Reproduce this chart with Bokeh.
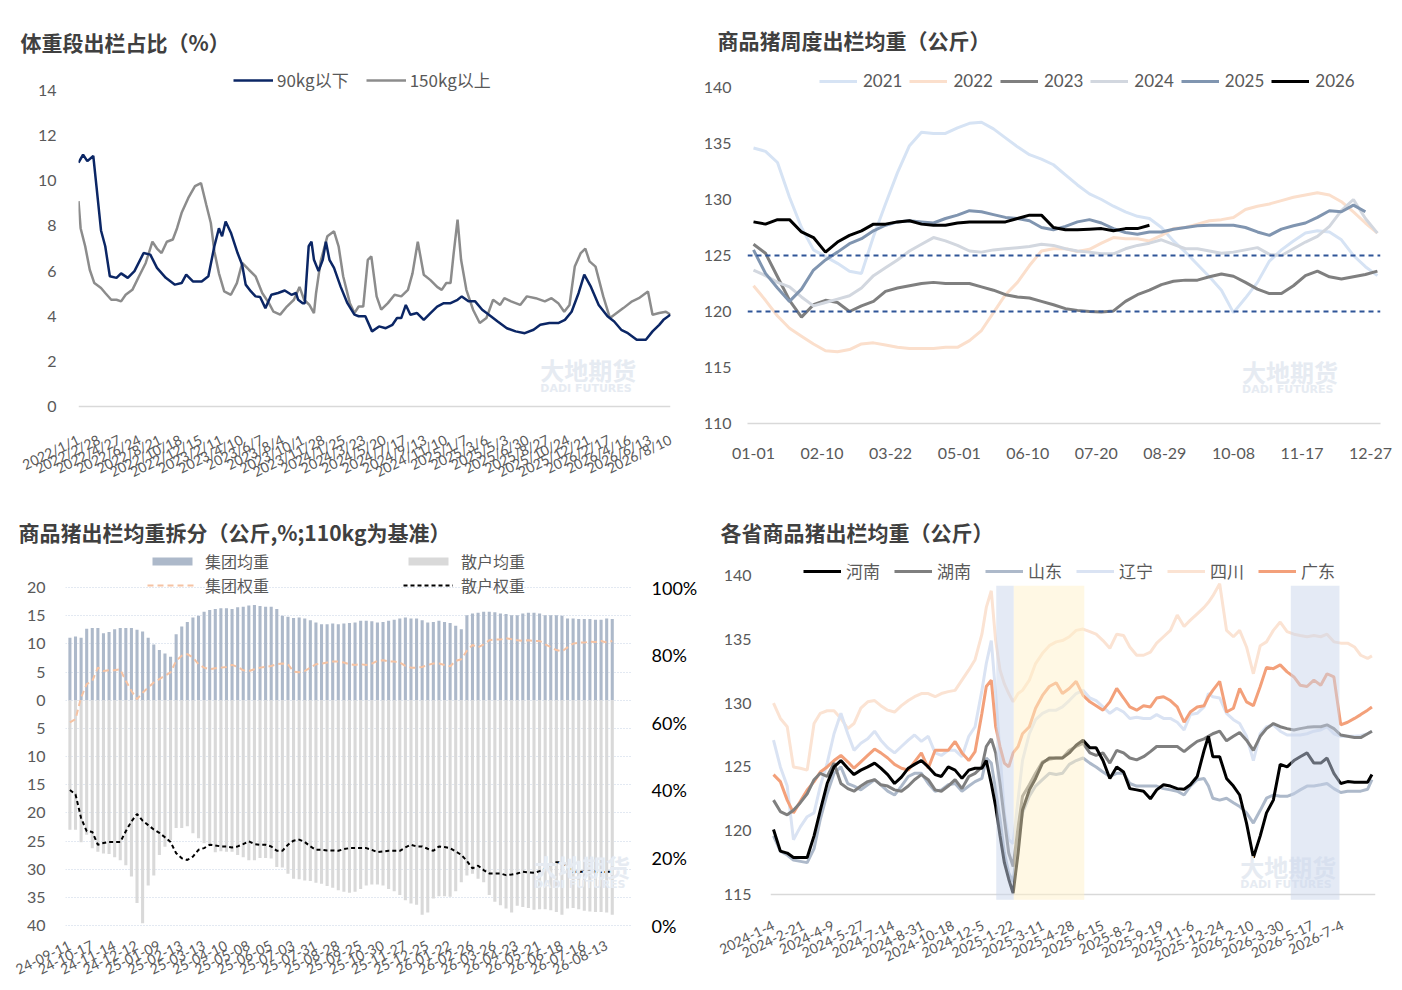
from bokeh.plotting import figure
from bokeh.models import Range1d, LinearAxis, FixedTicker, Legend, LegendItem, Span, Label, BoxAnnotation
from bokeh.layouts import column, row
from bokeh.embed import file_html
from bokeh.resources import INLINE

# ---------------- data: 体重段出栏占比 ----------------
tl_labels = ["2022/1/1", "2022/2/28", "2022/4/27", "2022/6/24", "2022/8/21", "2022/10/18", "2022/12/15",
             "2023/2/11", "2023/4/10", "2023/6/7", "2023/8/4", "2023/10/1", "2023/11/28", "2024/1/25",
             "2024/3/23", "2024/5/20", "2024/7/17", "2024/9/13", "2024/11/10", "2025/1/7", "2025/3/6",
             "2025/5/3", "2025/6/30", "2025/8/27", "2025/10/24", "2025/12/21", "2026/2/17", "2026/4/16",
             "2026/6/13", "2026/8/10"]
tl_label_step_days = 58
# days since 2022-01-01
below90_day = [0, 13, 25, 42, 51, 64, 76, 89, 108, 121, 140, 159, 185, 204, 223, 248, 274, 293, 306, 325,
               350, 369, 386, 399, 408, 418, 433, 452, 465, 475, 490, 503, 516, 531, 548, 567, 586, 605, 618, 624,
               637, 643, 654, 662, 669, 682, 694, 703, 713, 726, 745, 764, 784, 796, 815, 834, 854, 873, 892, 905,
               917, 930, 943, 962, 981, 1000, 1019, 1038, 1057, 1077, 1089, 1108, 1127, 1147, 1166, 1191, 1217,
               1242, 1268, 1293, 1312, 1338, 1363, 1382, 1401, 1421, 1437, 1456, 1478, 1503, 1522, 1542, 1561,
               1586, 1612, 1631, 1650, 1662, 1682]
below90_val = [10.8, 11.16, 10.87, 11.1, 9.76, 7.8, 7.1, 5.77, 5.7, 5.9, 5.7, 6.0, 6.8, 6.73, 6.14, 5.7, 5.4,
               5.47, 5.84, 5.54, 5.54, 5.77, 7.1, 7.9, 7.54, 8.2, 7.7, 6.8, 6.28, 5.4, 5.1, 4.88, 4.85, 4.36,
               4.95, 5.03, 5.14, 4.95, 5.03, 4.73, 4.58, 4.58, 7.1, 7.3, 6.5, 6.0, 6.5, 7.3, 6.5, 6.14, 5.3,
               4.58, 4.07, 4.0, 4.0, 3.33, 3.55, 3.47, 3.62, 3.92, 3.92, 4.5, 4.07, 4.14, 3.84, 4.14, 4.43,
               4.58, 4.58, 4.73, 4.88, 4.66, 4.66, 4.29, 4.07, 3.77, 3.47, 3.33, 3.25, 3.4, 3.62, 3.7, 3.7,
               3.84, 4.2, 5.03, 5.84, 5.3, 4.5, 4.0, 3.77, 3.4, 3.25, 2.96, 2.96, 3.33, 3.62, 3.84, 4.07]
above150_day = [0, 6, 19, 32, 45, 64, 76, 93, 108, 121, 134, 153, 172, 191, 210, 223, 236, 251, 268, 280,
                293, 312, 331, 348, 363, 376, 386, 399, 414, 433, 450, 465, 484, 503, 522, 541, 554, 573, 592,
                612, 628, 641, 656, 669, 675, 688, 707, 726, 739, 752, 771, 784, 796, 809, 822, 832, 847, 860,
                879, 898, 917, 936, 949, 964, 981, 1000, 1019, 1032, 1045, 1057, 1066, 1077, 1087, 1102, 1121,
                1140, 1159, 1178, 1198, 1210, 1229, 1255, 1274, 1299, 1325, 1344, 1363, 1380, 1395, 1410, 1427,
                1440, 1452, 1469, 1491, 1510, 1529, 1548, 1573, 1592, 1618, 1631, 1650, 1669, 1682]
above150_val = [9.1, 7.9, 7.1, 6.06, 5.47, 5.25, 5.03, 4.73, 4.73, 4.66, 4.95, 5.17, 5.77, 6.36, 7.3, 7.0, 6.8,
                7.3, 7.4, 7.9, 8.58, 9.24, 9.76, 9.9, 8.94, 8.13, 6.87, 5.9, 5.1, 4.95, 5.47, 6.36, 6.06, 5.77,
                5.03, 4.58, 4.2, 4.07, 4.43, 4.73, 5.3, 4.73, 4.5, 4.14, 5.03, 6.43, 7.54, 7.76, 7.1, 5.77, 4.58,
                4.14, 4.43, 4.43, 6.5, 6.65, 4.88, 4.29, 4.58, 4.95, 4.88, 5.17, 5.9, 7.3, 5.84, 5.6, 5.3, 5.17,
                5.47, 5.47, 6.8, 8.28, 6.5, 5.17, 4.29, 3.7, 3.92, 4.73, 4.5, 4.8, 4.66, 4.5, 4.88, 4.8, 4.66,
                4.8, 4.58, 4.2, 4.5, 6.2, 6.8, 7.0, 6.43, 6.2, 4.88, 3.92, 4.14, 4.36, 4.66, 4.8, 5.1, 4.07,
                4.14, 4.2, 4.07]

# ---------------- data: 商品猪周度出栏均重 ----------------
tr_labels = ["01-01", "02-10", "03-22", "05-01", "06-10", "07-20", "08-29", "10-08", "11-17", "12-27"]
tr_label_step_days = 40
tr_years = ["2021", "2022", "2023", "2024", "2025", "2026"]
w2021 = [134.6, 134.3, 133.3, 130.2, 127.5, 125.5, 124.9, 124.3, 123.6, 123.4, 126.7, 129.6, 132.4, 134.8,
         136.0, 135.9, 135.9, 136.4, 136.8, 136.9, 136.3, 135.5, 134.7, 134.0, 133.6, 133.1, 132.2, 131.3,
         130.5, 130.0, 129.4, 128.9, 128.5, 128.3, 127.5, 126.3, 125.3, 124.2, 123.1, 121.9, 119.9, 121.2,
         122.6, 124.5, 125.5, 126.3, 127.0, 127.2, 127.1, 126.4, 125.0, 124.0, 123.2]
w2022 = [122.3, 121.0, 119.6, 118.5, 117.8, 117.1, 116.5, 116.4, 116.6, 117.1, 117.2, 117.0, 116.8, 116.7,
         116.7, 116.7, 116.8, 116.8, 117.4, 118.3, 119.9, 121.5, 122.6, 124.1, 125.4, 125.6, 125.6, 125.35,
         125.55, 126.1, 126.6, 126.5, 126.5, 126.3, 126.8, 127.4, 127.5, 127.8, 128.1, 128.2, 128.4, 129.1,
         129.4, 129.6, 129.9, 130.2, 130.4, 130.6, 130.4, 129.8, 128.9, 127.9, 127.0]
w2023 = [126.0, 125.2, 123.1, 121.0, 119.5, 120.6, 121.0, 120.8, 120.0, 120.5, 120.9, 121.8, 122.1, 122.3,
         122.5, 122.6, 122.5, 122.5, 122.5, 122.2, 121.9, 121.5, 121.3, 121.2, 120.9, 120.6, 120.25, 120.1,
         120.0, 119.95, 120.05, 120.9, 121.5, 121.9, 122.4, 122.7, 122.8, 122.8, 123.1, 123.35, 123.15, 122.6,
         122.0, 121.6, 121.6, 122.3, 123.2, 123.6, 123.1, 122.9, 123.1, 123.3, 123.6]
w2024 = [123.7, 123.2, 122.6, 122.2, 121.3, 120.5, 120.8, 121.1, 121.4, 122.1, 123.2, 123.9, 124.6, 125.4,
         126.0, 126.6, 126.3, 125.9, 125.4, 125.3, 125.5, 125.6, 125.7, 125.8, 126.0, 125.9, 125.6, 125.4,
         125.3, 125.15, 125.15, 125.6, 125.9, 126.1, 126.4, 126.0, 125.6, 125.6, 125.4, 125.2, 125.3, 125.5,
         125.7, 125.1, 125.0, 125.6, 126.2, 126.7, 127.6, 129.0, 130.0, 128.3, 127.0]
w2025 = [125.5, 123.4, 122.1, 120.9, 122.0, 123.7, 124.6, 125.3, 126.05, 126.5, 127.2, 127.7, 128.0, 128.1,
         128.0, 127.9, 128.3, 128.6, 129.0, 128.9, 128.65, 128.4, 128.3, 128.1, 127.5, 127.3, 127.6, 128.0,
         128.2, 127.9, 127.4, 127.05, 126.9, 127.1, 127.1, 127.35, 127.5, 127.65, 127.7, 127.7, 127.7, 127.5,
         127.1, 126.8, 127.35, 127.65, 127.9, 128.4, 129.0, 128.9, 129.5, 128.9]
w2026 = [128.0, 127.8, 128.2, 128.2, 127.1, 126.6, 125.3, 126.2, 126.8, 127.2, 127.8, 127.8, 128.0, 128.1,
         127.8, 127.7, 127.7, 127.9, 128.0, 128.0, 128.0, 128.0, 128.3, 128.6, 128.6, 127.5, 127.3, 127.3,
         127.35, 127.4, 127.2, 127.4, 127.4, 127.7]
tr_ref_levels = [125, 120]

# ---------------- data: 商品猪出栏均重拆分 ----------------
bl_labels = ["24-09-11", "24-10-17", "24-11-14", "24-12-12", "25-01-09", "25-02-13", "25-03-13", "25-04-10",
             "25-05-08", "25-06-05", "25-07-03", "25-07-31", "25-08-28", "25-09-25", "25-10-30", "25-11-27",
             "25-12-25", "26-01-22", "26-02-26", "26-03-26", "26-04-23", "26-05-21", "26-06-18", "26-07-16",
             "26-08-13"]
bl_label_step = 4
group_weight = [11.1, 11.3, 11.1, 12.7, 12.8, 12.8, 11.9, 12.1, 12.6, 12.8, 12.8, 12.8, 12.5, 12.2, 11.1, 9.9,
                8.9, 8.3, 7.7, 11.7, 13.1, 13.9, 14.7, 15.0, 15.7, 16.0, 16.2, 16.3, 16.3, 16.2, 16.5, 16.6,
                16.8, 16.9, 16.7, 16.6, 16.6, 16.2, 15.0, 14.8, 14.6, 14.7, 14.5, 14.2, 13.8, 13.5, 13.5, 13.6,
                13.5, 13.6, 13.7, 13.8, 14.1, 14.1, 14.0, 13.8, 13.9, 14.1, 14.3, 14.5, 14.7, 14.5, 14.5, 14.2,
                13.8, 13.9, 14.1, 13.9, 13.7, 13.2, 12.6, 15.1, 15.4, 15.5, 15.7, 15.7, 15.6, 15.4, 15.3, 15.1,
                15.1, 15.4, 15.5, 15.5, 15.4, 15.1, 15.1, 15.1, 15.0, 14.5, 14.5, 14.4, 14.4, 14.4, 14.3, 14.3,
                14.5, 14.4]
retail_weight = [23.0, 23.0, 25.2, 23.9, 26.3, 26.9, 27.2, 27.3, 27.9, 28.4, 29.3, 31.3, 36.0, 39.6, 32.9,
                 31.1, 27.5, 26.0, 24.8, 22.7, 22.7, 22.4, 23.6, 24.5, 25.4, 25.8, 27.0, 26.8, 26.9, 26.9, 27.5,
                 27.9, 28.4, 28.4, 28.0, 28.0, 28.1, 29.6, 29.7, 30.8, 31.7, 31.8, 32.0, 32.1, 32.4, 32.6, 33.0,
                 33.3, 33.75, 34.0, 34.2, 34.0, 33.5, 32.9, 32.7, 32.7, 32.9, 33.5, 33.9, 34.6, 35.5, 36.1, 36.3,
                 38.1, 37.7, 35.2, 34.8, 34.8, 34.9, 33.9, 32.3, 31.1, 30.8, 31.7, 32.3, 34.6, 35.8, 36.4, 37.0,
                 37.7, 36.5, 36.7, 36.9, 37.2, 37.1, 37.1, 37.3, 37.6, 38.1, 37.0, 36.9, 37.1, 37.4, 37.5, 37.6,
                 37.6, 37.7, 38.1]
group_share = [60.1, 61.1, 67.5, 71.4, 72.4, 76.3, 75.3, 75.5, 75.5, 75.8, 72.4, 69.4, 67.0, 68.9, 70.4, 71.9,
               72.9, 73.9, 74.9, 78.3, 79.8, 80.3, 79.3, 77.3, 76.3, 75.8, 76.1, 76.3, 76.5, 77.1, 76.5, 75.5,
               75.3, 75.8, 76.3, 76.5, 76.8, 77.3, 77.5, 77.3, 75.1, 74.9, 75.3, 76.3, 77.3, 77.5, 77.8, 78.1,
               78.1, 77.8, 77.3, 77.1, 77.3, 77.1, 77.5, 78.3, 78.5, 78.1, 78.1, 77.8, 76.8, 76.3, 76.3, 76.5,
               77.1, 77.5, 77.5, 77.1, 76.7, 78.3, 78.8, 81.3, 83.0, 82.3, 83.2, 84.4, 84.6, 84.6, 85.0, 84.7,
               84.4, 84.2, 84.4, 84.2, 84.2, 83.2, 82.4, 81.5, 81.1, 82.3, 83.4, 83.7, 83.7, 84.0, 83.9, 84.2,
               83.7, 84.2]
retail_share = [40.1, 38.8, 31.8, 27.9, 27.7, 23.9, 24.4, 24.7, 24.7, 24.7, 27.9, 30.8, 33.0, 31.0, 29.7, 28.4,
                27.4, 26.1, 24.7, 21.4, 19.9, 19.4, 20.4, 22.4, 22.9, 23.9, 23.7, 23.4, 23.4, 23.1, 23.4, 24.1,
                24.9, 24.1, 23.9, 23.9, 23.4, 22.1, 22.1, 23.9, 25.1, 25.4, 24.7, 23.4, 22.4, 22.4, 22.2, 22.2,
                22.1, 22.6, 22.9, 22.9, 22.9, 22.9, 22.4, 21.7, 21.9, 22.1, 22.1, 22.1, 23.1, 23.9, 23.4, 23.4,
                22.7, 22.1, 23.4, 23.2, 22.9, 21.9, 20.9, 19.1, 16.9, 17.7, 16.4, 15.4, 15.4, 15.4, 14.9, 15.1,
                15.4, 15.9, 15.7, 15.6, 16.1, 16.9, 18.1, 18.7, 18.7, 17.4, 15.9, 15.9, 15.9, 15.9, 15.9, 15.8,
                15.9, 15.9]

# ---------------- data: 各省商品猪出栏均重 ----------------
br_labels = ["2024-1-4", "2024-2-21", "2024-4-9", "2024-5-27", "2024-7-14", "2024-8-31", "2024-10-18",
             "2024-12-5", "2025-1-22", "2025-3-11", "2025-4-28", "2025-6-15", "2025-8-2", "2025-9-19",
             "2025-11-6", "2025-12-24", "2026-2-10", "2026-3-30", "2026-5-17", "2026-7-4"]
br_label_step_days = 48
# days since 2024-01-04
br_day = [0, 11, 22, 32, 43, 54, 65, 75, 86, 97, 108, 119, 129, 140, 151, 162, 172, 183, 194, 205, 216, 226,
          237, 248, 259, 269, 280, 291, 302, 313, 323, 334, 341, 349, 356, 363, 370, 377, 384, 392, 399, 410,
          420, 431, 442, 453, 463, 474, 485, 496, 507, 517, 528, 539, 550, 561, 571, 582, 593, 604, 614, 625,
          636, 647, 658, 668, 679, 690, 697, 704, 715, 726, 737, 747, 758, 769, 780, 790, 801, 812, 823, 834,
          844, 855, 866, 877, 887, 898, 909, 920, 931, 941, 952, 959]
henan = [120.1, 118.4, 118.25, 117.9, 117.9, 117.9, 119.6, 121.6, 123.7, 125.0, 125.5, 124.9, 124.4, 124.75,
         125.0, 125.3, 124.9, 124.4, 123.7, 124.2, 124.9, 125.2, 125.5, 125.0, 124.4, 124.25, 125.0, 124.75,
         124.1, 124.75, 124.9, 124.9,
         125.5, 123.7, 121.9, 119.6, 117.5, 116.2, 115.1, 118.25, 121.6,
         123.2, 124.1, 125.3, 125.7, 125.7, 125.7, 126.1, 126.7, 127.1, 126.5, 126.5, 125.5, 124.1, 125.0,
         124.6, 123.3, 123.2, 123.1, 122.5, 123.2, 123.6, 123.5, 123.3, 123.25, 123.6, 124.25, 126.3,
         127.4, 125.8,
         125.8, 124.1, 123.5, 122.8, 120.6, 117.9, 119.6, 121.4, 122.4, 125.2, 125.0, 125.5, 125.8, 126.1,
         125.3, 125.3, 125.7, 124.5, 123.7, 123.85, 123.8, 123.8, 123.8,
         124.4]
hunan = [122.4, 121.5, 121.25, 121.6, 122.2, 122.9, 124.0, 124.5, 124.25, 125.3, 123.7, 123.3, 123.1, 123.5,
         123.85, 124.0, 123.6, 123.5, 123.2, 123.1, 123.5, 124.0, 124.4, 124.0, 123.2, 123.1, 123.5, 124.0,
         123.3, 124.25, 124.5, 125.0,
         126.6, 127.2, 126.1, 123.7, 120.9, 118.25, 117.2, 120.3, 122.7,
         123.6, 124.5, 125.4, 125.6, 125.7, 125.7, 126.3, 126.6, 126.85, 126.1, 125.9, 126.1, 125.3, 126.3,
         126.1, 125.7, 125.55, 125.8, 126.2, 126.6, 126.6, 126.6, 126.6, 126.2, 126.6, 127.0, 127.2,
         127.4, 127.6,
         127.8, 127.05, 127.4, 127.7, 127.1, 126.3, 127.4, 128.0, 128.4, 128.15, 128.0, 127.9, 128.0, 128.1,
         128.15, 128.15, 128.3, 128.0, 127.5, 127.4, 127.3, 127.3, 127.6,
         127.8]
shandong = [119.6, 118.4, 118.1, 117.7, 117.6, 117.5, 118.6, 120.9, 122.9, 124.5, 125.0, 123.7, 123.5, 123.2,
            123.6, 124.0, 123.6, 123.1, 122.8, 123.5, 124.25, 124.5, 124.5, 123.7, 123.1, 123.2, 123.6, 123.7,
            123.1, 123.5, 123.85, 124.1,
            125.7, 125.3, 123.2, 120.9, 118.25, 116.7, 116.0, 119.3, 121.4,
            122.7, 123.5, 124.0, 124.5, 124.4, 124.5, 125.2, 125.5, 125.7, 125.3, 125.0, 124.6, 124.25, 124.5,
            124.5, 123.7, 123.5, 123.5, 123.5, 123.5, 123.3, 123.2, 123.1, 122.8, 123.5, 124.0, 124.1,
            123.5, 122.55,
            122.4, 122.55, 122.2, 121.9, 121.4, 120.6, 121.6, 122.55, 122.8, 122.7, 122.7, 122.9, 123.2, 123.5,
            123.5, 123.6, 123.7, 123.3, 123.0, 123.1, 123.1, 123.1, 123.25,
            124.0]
liaoning = [127.1, 125.0, 123.5, 119.3, 120.3, 121.1, 121.4, 123.5, 125.3, 127.6, 129.2, 127.6, 126.3, 126.85,
            127.2, 127.8, 127.1, 126.5, 126.1, 126.6, 127.1, 127.5, 127.0, 127.4, 126.1, 125.9, 126.3, 126.3,
            125.8, 127.4, 128.15, 131.0,
            133.1, 134.9, 130.75, 126.1, 121.4, 119.3, 119.0, 122.5, 125.5,
            127.6, 128.7, 129.2, 129.45, 129.45, 129.7, 130.2, 130.75, 131.0, 130.4, 130.2, 129.7, 129.2, 129.6,
            129.3, 128.8, 128.9, 128.8, 128.8, 129.1, 128.8, 128.8, 128.5, 127.9, 129.1, 129.2, 129.7,
            130.75, 130.5,
            130.4, 129.2, 128.7, 128.4, 127.4, 125.5, 127.6, 128.15, 128.3, 127.8, 127.5, 127.5, 127.5, 127.6,
            127.8, 127.9, 128.15, 127.6, 127.4, 127.4, 127.4, 127.45, 127.6,
            127.8]
sichuan = [130.0, 128.8, 128.15, 125.0, 124.9, 124.75, 128.4, 129.2, 129.4, 129.4, 128.8, 128.0, 128.4, 129.6,
           130.1, 130.2, 129.8, 129.45, 129.3, 129.8, 130.2, 130.5, 130.75, 130.75, 130.5, 130.75, 130.9, 131.0,
           131.8, 132.6, 133.4, 135.4,
           137.5, 138.8, 134.9, 132.6, 131.5, 130.75, 130.1, 130.75, 131.0,
           131.8, 133.1, 133.9, 134.5, 134.8, 134.9, 135.2, 135.7, 135.8, 135.6, 135.4, 134.9, 134.3, 135.4,
           135.3, 134.4, 133.75, 133.75, 134.0, 134.7, 135.2, 135.7, 136.9, 136.0, 136.5, 137.0, 137.5,
           137.9, 138.4,
           139.35, 135.7, 135.2, 135.7, 134.4, 132.3, 134.5, 134.8, 135.7, 136.35, 135.6, 135.4, 135.3, 135.2,
           135.3, 135.2, 135.4, 134.8, 134.7, 134.7, 134.4, 133.75, 133.5,
           133.7]
guangdong = [124.4, 123.85, 122.4, 121.4, 122.3, 123.2, 123.85, 124.6, 125.0, 125.5, 125.9, 125.4, 124.9,
             125.4, 125.9, 126.4, 126.1, 125.7, 125.2, 124.9, 124.75, 125.4, 126.1, 124.9, 126.3, 126.3, 126.3,
             127.0, 126.1, 125.5, 126.2, 129.2,
             131.3, 131.8, 128.15, 126.6, 125.3, 125.0, 126.1, 126.6, 127.6,
             128.15, 129.6, 130.6, 131.3, 131.6, 130.75, 131.15, 131.7, 130.6, 130.1, 129.8, 129.45, 130.1,
             131.15, 130.4, 129.7, 129.45, 129.8, 129.7, 130.4, 130.5, 130.2, 129.7, 128.5, 129.3, 129.7, 129.8,
             130.5, 131.0,
             131.7, 129.3, 129.6, 131.15, 130.1, 129.8, 131.3, 132.8, 132.7, 133.0, 132.45, 132.05, 131.4, 131.3,
             131.8, 131.4, 132.3, 132.05, 128.3, 128.5, 128.8, 129.1, 129.45,
             129.7]
# highlighted periods (days since 2024-01-04)
period_start = [357, 385, 829]
period_end = [385, 498, 907]

# ---------------- styling helpers ----------------
CJK = "Noto Sans CJK SC"
NUM = "Lato"
TXT = "#595959"


def base_fig(w, h, xr, yr, ml, mr, mt, mb, title, t_off, t_stand):
    p = figure(width=w, height=h, x_range=xr, y_range=yr, output_backend="svg", toolbar_location=None,
               min_border_left=ml, min_border_right=mr, min_border_top=mt, min_border_bottom=mb)
    p.outline_line_color = None
    p.background_fill_color = "white"
    p.border_fill_color = "white"
    p.xgrid.visible = False
    p.ygrid.visible = False
    p.title.text = title
    p.title.text_font = CJK
    p.title.text_font_size = "21px"
    p.title.text_font_style = "bold"
    p.title.text_color = "#404040"
    p.title.align = "left"
    p.title.offset = t_off
    p.title.standoff = t_stand
    for ax in p.xaxis + p.yaxis:
        ax.major_tick_line_color = None
        ax.minor_tick_line_color = None
        ax.major_label_text_color = TXT
        ax.major_label_text_font = NUM
        ax.major_label_text_font_size = "16px"
    for ax in p.yaxis:
        ax.axis_line_color = None
    for ax in p.xaxis:
        ax.axis_line_color = "#d9d9d9"
        ax.axis_line_width = 1.5
    return p


def style_legend(lg, font, size="16px"):
    lg.border_line_color = None
    lg.background_fill_alpha = 0
    lg.label_text_font = font
    lg.label_text_font_size = size
    lg.label_text_color = TXT
    lg.padding = 0
    lg.margin = 0
    lg.label_height = 20
    lg.label_standoff = 5
    lg.glyph_width = 38


def watermark(p, x, y1, y2):
    p.add_layout(Label(x=x, y=y1, text="大地期货", text_font=CJK, text_font_size="24px",
                       text_font_style="bold", text_color="#e6ebf2", text_baseline="middle"))
    p.add_layout(Label(x=x, y=y2, text="DADI FUTURES", text_font="DejaVu Sans", text_font_size="11px",
                       text_font_style="bold", text_color="#e6ebf2", text_baseline="middle"))


# top row frames: page y 62..424 ; bottom row frames: page y 545..928
# ---------------- panel 1 ----------------
p1 = base_fig(700, 490, Range1d(0, 1682), Range1d(-0.751, 15.24), 78, 30, 62, 66,
              "体重段出栏占比（%）", -58, 11)
p1.yaxis.ticker = FixedTicker(ticks=[0, 2, 4, 6, 8, 10, 12, 14])
tl_ticks = [i * tl_label_step_days for i in range(len(tl_labels))]
p1.xaxis.ticker = FixedTicker(ticks=tl_ticks)
p1.xaxis.major_label_overrides = {t: s for t, s in zip(tl_ticks, tl_labels)}
p1.xaxis.major_label_orientation = 0.45
p1.xaxis.major_label_text_font_size = "14px"
p1.xaxis.major_label_standoff = 9
p1.xaxis.axis_line_color = None
p1.yaxis.major_label_standoff = 16
p1.add_layout(Span(location=0, dimension="width", line_color="#d9d9d9", line_width=1.5))
watermark(p1, 1312, 1.65, 0.8)
r_a = p1.line(above150_day, above150_val, line_color="#8c8c8c", line_width=2.5)
r_b = p1.line(below90_day, below90_val, line_color="#0b2665", line_width=2.5)
lg1 = Legend(items=[LegendItem(label="90kg以下", renderers=[r_b]), LegendItem(label="150kg以上", renderers=[r_a])],
             orientation="horizontal", location=(155, 331), spacing=17)
style_legend(lg1, CJK, "17px")
lg1.glyph_width = 40
lg1.label_standoff = 4
p1.add_layout(lg1)

# ---------------- panel 2 ----------------
p2 = base_fig(700, 490, Range1d(-3.5, 365.8), Range1d(110, 142.23), 42, 20, 62, 66,
              "商品猪周度出栏均重（公斤）", -30, 15)
p2.yaxis.ticker = FixedTicker(ticks=[110, 115, 120, 125, 130, 135, 140])
tr_ticks = [i * tr_label_step_days for i in range(len(tr_labels))]
p2.xaxis.ticker = FixedTicker(ticks=tr_ticks)
p2.xaxis.major_label_overrides = {t: s for t, s in zip(tr_ticks, tr_labels)}
p2.xaxis.major_label_standoff = 18
p2.yaxis.major_label_standoff = 10
watermark(p2, 285, 114.6, 113.0)
tr_series = [w2021, w2022, w2023, w2024, w2025, w2026]
tr_colors = ["#d6e3f4", "#fbdfcc", "#7f7f7f", "#d2d7df", "#8095b0", "#000000"]
tr_items = []
for name, ser, col in zip(tr_years, tr_series, tr_colors):
    r = p2.line([7 * k for k in range(len(ser))], ser, line_color=col, line_width=3)
    tr_items.append(LegendItem(label=name, renderers=[r]))
for lvl in tr_ref_levels:
    p2.add_layout(Span(location=lvl, dimension="width", line_color="#2f5597", line_width=2, line_dash="5 4"))
lg2 = Legend(items=tr_items, orientation="horizontal", location=(72, 332), spacing=7)
style_legend(lg2, NUM, "17px")
lg2.label_standoff = 6
p2.add_layout(lg2)

# ---------------- panel 3 ----------------
p3 = base_fig(700, 500, Range1d(-0.79, 100.62), Range1d(-40.53, 27.46), 65, 60, 55, 62,
              "商品猪出栏均重拆分（公斤,%;110kg为基准）", -47, -3)
left_ticks = list(range(-40, 21, 5))
p3.yaxis.ticker = FixedTicker(ticks=left_ticks)
p3.yaxis.major_label_overrides = {t: str(abs(t)) for t in left_ticks}
p3.yaxis.major_label_standoff = 14
p3.ygrid.visible = True
p3.ygrid.ticker = FixedTicker(ticks=left_ticks)
p3.ygrid.grid_line_color = "#c6d2e4"
p3.ygrid.grid_line_dash = "1 2"
p3.ygrid.grid_line_width = 1
p3.extra_y_ranges = {"pct": Range1d((-40.53 + 40) / 60 * 100, (27.46 + 40) / 60 * 100)}
pct_ticks = [0, 20, 40, 60, 80, 100]
ax_r = LinearAxis(y_range_name="pct", ticker=FixedTicker(ticks=pct_ticks),
                  major_label_overrides={t: f"{t}%" for t in pct_ticks})
ax_r.axis_line_color = None
ax_r.major_tick_line_color = None
ax_r.minor_tick_line_color = None
ax_r.major_label_text_color = "#000000"
ax_r.major_label_text_font = NUM
ax_r.major_label_text_font_size = "18px"
ax_r.major_label_standoff = 13
p3.add_layout(ax_r, "right")
bl_idx = list(range(len(group_weight)))
bl_ticks = [i * bl_label_step for i in range(len(bl_labels))]
p3.xaxis.ticker = FixedTicker(ticks=bl_ticks)
p3.xaxis.major_label_overrides = {t: s for t, s in zip(bl_ticks, bl_labels)}
p3.xaxis.major_label_orientation = 0.45
p3.xaxis.major_label_text_font_size = "14px"
p3.xaxis.major_label_standoff = 10
p3.xaxis.axis_line_color = None
watermark(p3, 83, -29.5, -32.7)
rb1 = p3.vbar(x=bl_idx, bottom=0, top=group_weight, width=0.55, fill_color="#adb9ca", line_color=None)
rb2 = p3.vbar(x=bl_idx, bottom=[-v for v in retail_weight], top=0, width=0.55, fill_color="#d9d9d9", line_color=None)
rl1 = p3.line(bl_idx, group_share, y_range_name="pct", line_color="#f6c3a3", line_width=2, line_dash="6 4")
rl2 = p3.line(bl_idx, retail_share, y_range_name="pct", line_color="#000000", line_width=2, line_dash="4 3")
lg3a = Legend(items=[LegendItem(label="集团均重", renderers=[rb1]), LegendItem(label="集团权重", renderers=[rl1])],
              location=(82, 331), spacing=0)
lg3b = Legend(items=[LegendItem(label="散户均重", renderers=[rb2]), LegendItem(label="散户权重", renderers=[rl2])],
              location=(338, 331), spacing=0)
for lg in (lg3a, lg3b):
    style_legend(lg, CJK, "16px")
    lg.label_height = 22
    lg.glyph_width = 50
    lg.glyph_height = 10
    lg.label_standoff = 8
    p3.add_layout(lg)

# ---------------- panel 4 ----------------
p4 = base_fig(700, 500, Range1d(-4.8, 964.7), Range1d(112.34, 142.35), 70, 25, 55, 62,
              "各省商品猪出栏均重（公斤）", -50, -3)
p4.yaxis.ticker = FixedTicker(ticks=[115, 120, 125, 130, 135, 140])
p4.yaxis.major_label_standoff = 13
br_ticks = [i * br_label_step_days for i in range(len(br_labels))]
p4.xaxis.ticker = FixedTicker(ticks=br_ticks)
p4.xaxis.major_label_overrides = {t: s for t, s in zip(br_ticks, br_labels)}
p4.xaxis.major_label_orientation = 0.45
p4.xaxis.major_label_text_font_size = "14px"
p4.xaxis.major_label_standoff = -10
p4.xaxis.axis_line_color = None
p4.add_layout(Span(location=115, dimension="width", line_color="#d9d9d9", line_width=1.5))
watermark(p4, 748, 117.2, 115.8)
prov = {
    "河南": (henan, "#000000"),
    "湖南": (hunan, "#7f7f7f"),
    "山东": (shandong, "#adb9ca"),
    "辽宁": (liaoning, "#dae3f3"),
    "四川": (sichuan, "#fbe3d3"),
    "广东": (guangdong, "#f3a07a"),
}
draw_order = ["四川", "辽宁", "广东", "山东", "湖南", "河南"]
rends = {}
for name in draw_order:
    ser, col = prov[name]
    rends[name] = p4.line(br_day, ser, line_color=col, line_width=3)
band_colors = ["#c9d6ec", "#fff1c9", "#c9d6ec"]
for s, e, c in zip(period_start, period_end, band_colors):
    p4.add_layout(BoxAnnotation(left=s, right=e, bottom=114.6, top=139.2, fill_color=c, fill_alpha=0.5,
                                line_color=None, level="overlay"))
lg4 = Legend(items=[LegendItem(label=n, renderers=[rends[n]]) for n in ["河南", "湖南", "山东", "辽宁", "四川", "广东"]],
             orientation="horizontal", location=(33, 345), spacing=14)
style_legend(lg4, CJK, "17px")
p4.add_layout(lg4)

layout = column(row(p1, p2), row(p3, p4))
open("out.html", "w").write(file_html(layout, INLINE))
